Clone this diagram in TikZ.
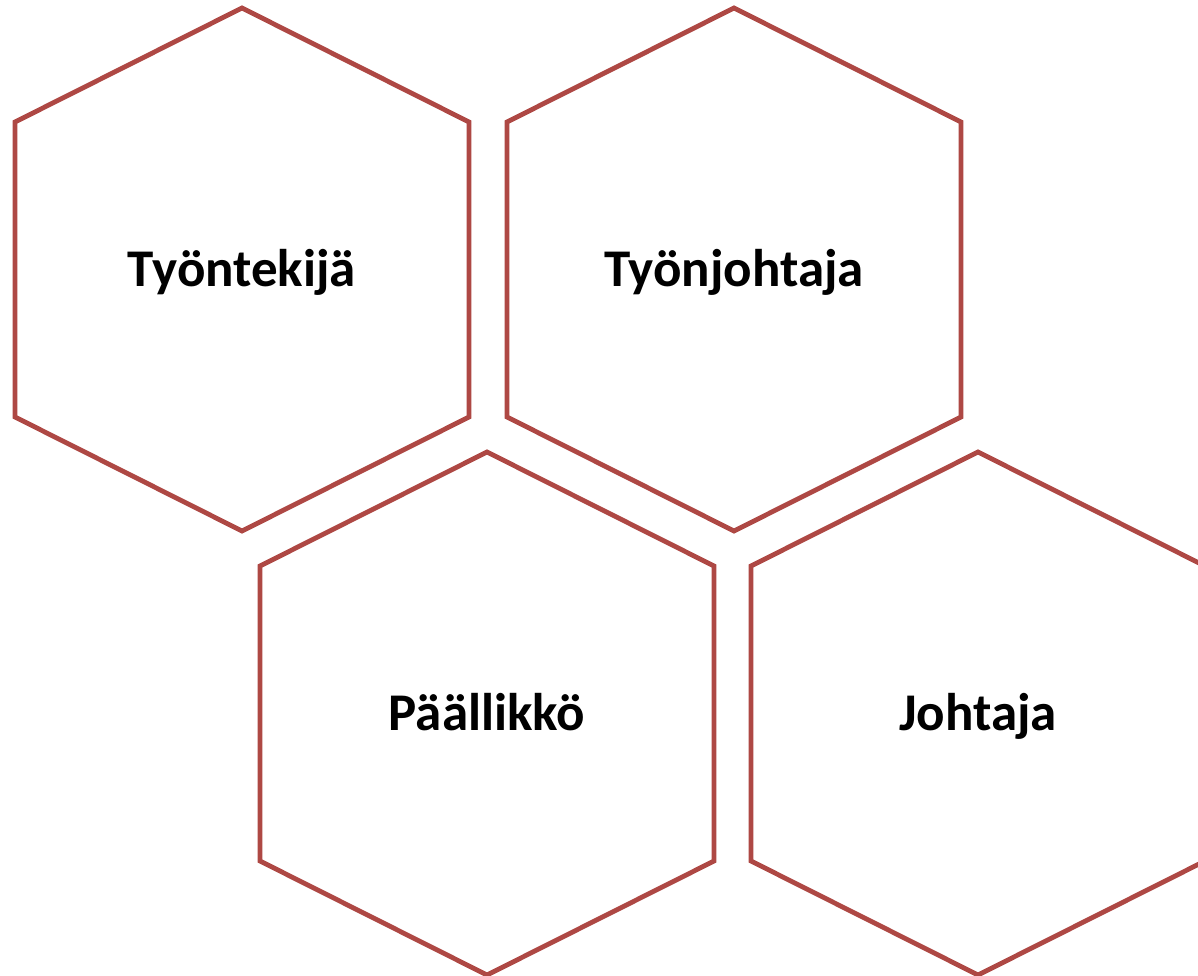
\documentclass[tikz,border=0pt]{standalone}
\usepackage{fontspec}
\setmainfont{Carlito}
\definecolor{hexred}{RGB}{174,72,68}
\begin{document}
\begin{tikzpicture}[x=1pt,y=-1pt,
  hexline/.style={draw=hexred,line width=4.8pt,line join=miter},
  lbl/.style={font=\fontsize{53}{64}\selectfont\bfseries,text=black,anchor=base,inner sep=0pt}]
\useasboundingbox (0,0) rectangle (1198,976);
\clip (0,0) rectangle (1198,976);
\newcommand{\hexat}[2]{%
  \draw[hexline] (#1,#2-261.5) -- (#1+227,#2-147.5) -- (#1+227,#2+147.5) -- (#1,#2+261.5) -- (#1-227,#2+147.5) -- (#1-227,#2-147.5) -- cycle;}
\hexat{242}{269.5}
\hexat{734}{269.5}
\hexat{487}{713.5}
\hexat{978}{713.5}
\node[lbl] (a) at (242,286) {Työntekijä};
\node[lbl] (b) at (734,286) {Työnjohtaja};
\node[lbl] (c) at (487,730) {Päällikkö};
\node[lbl] (d) at (978,730) {Johtaja};
\end{tikzpicture}
\end{document}
